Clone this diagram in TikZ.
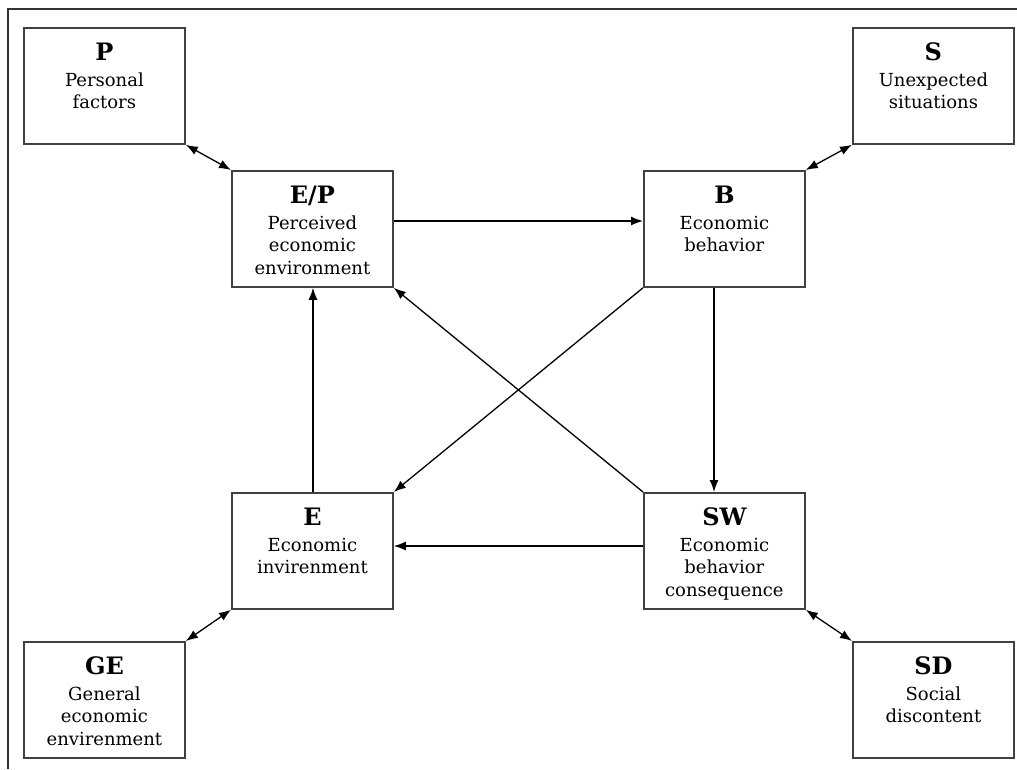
\documentclass[tikz,border=0pt]{standalone}
\usepackage{fontspec}
\setmainfont{DejaVu Serif}
\usetikzlibrary{arrows.meta}
\begin{document}
\begin{tikzpicture}[x=1pt,y=-1pt,
  box/.style={draw=black!75,line width=1.8pt,minimum width=161pt,minimum height=116pt,inner sep=0pt,anchor=north west},
  dsc/.style={anchor=north,align=center,inner sep=0pt,font=\fontsize{18}{22.5}\selectfont},
  ttl/.style={anchor=base,inner sep=0pt,font=\fontsize{24}{26}\selectfont\bfseries},
  tip/.tip={Latex[length=12pt,width=9pt]},
  conn/.style={line width=1.3pt,-tip},
  both/.style={line width=1.3pt,tip-tip}]
\useasboundingbox (0,0) rectangle (1017,769);
\coordinate (f1) at (8,9);
\coordinate (f2) at (1017,9);
\coordinate (f3) at (8,769);
\draw[line width=1.5pt,black!80] (f2) -- (f1) -- (f3);
% boxes
\node[box] (P) at (23,27) {};
\node[box] (S) at (852,27) {};
\node[box] (GE) at (23,641) {};
\node[box] (SD) at (852,641) {};
\node[box] (EP) at (231,170) {};
\node[box] (B) at (643,170) {};
\node[box] (E) at (231,492) {};
\node[box] (SW) at (643,492) {};
% titles
\node[ttl] (Pt) at ([yshift=-33pt]P.north) {P};
\node[ttl] (St) at ([yshift=-33pt]S.north) {S};
\node[ttl] (GEt) at ([yshift=-33pt]GE.north) {GE};
\node[ttl] (SDt) at ([yshift=-33pt]SD.north) {SD};
\node[ttl] (EPt) at ([yshift=-33pt]EP.north) {E/P};
\node[ttl] (Bt) at ([yshift=-33pt]B.north) {B};
\node[ttl] (Et) at ([yshift=-33pt]E.north) {E};
\node[ttl] (SWt) at ([yshift=-33pt]SW.north) {SW};
% descriptions
\node[dsc] (Pd) at ([yshift=-43.25pt]P.north) {\strut Personal\\factors};
\node[dsc] (Sd) at ([yshift=-43.25pt]S.north) {\strut Unexpected\\situations};
\node[dsc] (GEd) at ([yshift=-43.25pt]GE.north) {\strut General\\economic\\envirenment};
\node[dsc] (SDd) at ([yshift=-43.25pt]SD.north) {\strut Social\\discontent};
\node[dsc] (EPd) at ([yshift=-43.25pt]EP.north) {\strut Perceived\\economic\\environment};
\node[dsc] (Bd) at ([yshift=-43.25pt]B.north) {\strut Economic\\behavior};
\node[dsc] (Ed) at ([yshift=-43.25pt]E.north) {\strut Economic\\invirenment};
\node[dsc] (SWd) at ([yshift=-43.25pt]SW.north) {\strut Economic\\behavior\\consequence};
% connectors
\draw[both] (P.south east) -- (EP.north west);
\draw[both] (S.south west) -- (B.north east);
\draw[both] (GE.north east) -- (E.south west);
\draw[both] (SW.south east) -- (SD.north west);
\draw[conn] (EP.east |- 0,221) -- (B.west |- 0,221);
\draw[conn] (B.south -| 714,0) -- (SW.north -| 714,0);
\draw[conn] (SW.west |- 0,546) -- (E.east |- 0,546);
\draw[conn] (E.north -| 313,0) -- (EP.south -| 313,0);
\draw[conn] (B.south west) -- (E.north east);
\draw[conn] (SW.north west) -- (EP.south east);
\end{tikzpicture}
\end{document}
